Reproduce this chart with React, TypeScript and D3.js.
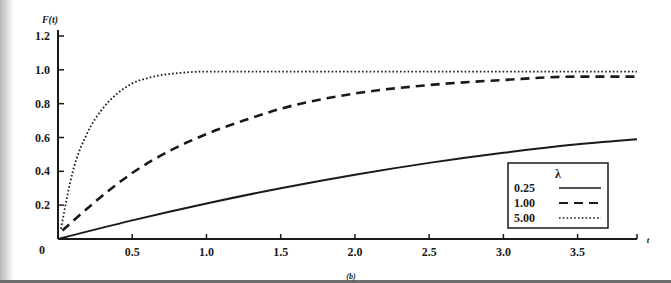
import { useRef, useEffect } from "react";
import * as d3 from "d3";

// lambda = 0.25
const T_025 = [0, 0.5, 1.0, 1.5, 2.0, 2.5, 3.0, 3.5, 3.9];
const F_025 = [0.0, 0.11, 0.21, 0.3, 0.38, 0.45, 0.51, 0.56, 0.59];

// lambda = 1.00
const T_100 = [0.03, 0.25, 0.5, 0.75, 1.0, 1.25, 1.5, 2.0, 2.5, 3.0, 3.5, 3.9];
const F_100 = [0.05, 0.22, 0.39, 0.52, 0.62, 0.7, 0.77, 0.86, 0.91, 0.94, 0.96, 0.96];

// lambda = 5.00
const T_500 = [0.02, 0.1, 0.2, 0.3, 0.4, 0.5, 0.6, 0.7, 0.8, 1.0, 1.5, 2.0, 3.0, 3.9];
const F_500 = [0.06, 0.4, 0.63, 0.77, 0.86, 0.92, 0.95, 0.97, 0.98, 0.99, 0.99, 0.99, 0.99, 0.99];

const X_TICKS = [0.5, 1.0, 1.5, 2.0, 2.5, 3.0, 3.5];
const Y_TICKS = [0.2, 0.4, 0.6, 0.8, 1.0, 1.2];
const LEGEND = ["0.25", "1.00", "5.00"];

export default function App() {
  const svgRef = useRef<SVGSVGElement>(null);

  useEffect(() => {
    if (!svgRef.current) return;
    const svg = d3.select(svgRef.current);
    svg.selectAll("*").remove();

    const width = 671;
    const height = 283;
    const font = "'Liberation Serif', 'DejaVu Serif', serif";
    const ink = "#1a1a1a";

    // scanned page look
    const defs = svg.append("defs");
    const grad = defs
      .append("linearGradient")
      .attr("id", "edge")
      .attr("x1", "0")
      .attr("x2", "1");
    grad.append("stop").attr("offset", "0").attr("stop-color", "#b8b8b8");
    grad.append("stop").attr("offset", "1").attr("stop-color", "#ffffff");

    svg.append("rect").attr("width", width).attr("height", height).attr("fill", "#fff");
    svg.append("rect").attr("width", 14).attr("height", height).attr("fill", "url(#edge)");
    svg
      .append("rect")
      .attr("y", 280)
      .attr("width", width)
      .attr("height", 3)
      .attr("fill", "#6e6e6e");

    const x = d3.scaleLinear().domain([0, 3.9]).range([58, 637]);
    const y = d3.scaleLinear().domain([0, 1.2]).range([239, 36]);

    const label = (sel: d3.Selection<SVGTextElement, unknown, null, undefined>, size = 12) =>
      sel
        .attr("font-family", font)
        .attr("font-weight", "bold")
        .attr("font-size", `${size}px`)
        .attr("fill", ink);

    // y axis
    svg
      .append("line")
      .attr("x1", x(0))
      .attr("x2", x(0))
      .attr("y1", 30)
      .attr("y2", y(0))
      .attr("stroke", ink)
      .attr("stroke-width", 2);
    Y_TICKS.forEach((v) => {
      svg
        .append("line")
        .attr("x1", x(0))
        .attr("x2", x(0) + 6)
        .attr("y1", y(v))
        .attr("y2", y(v))
        .attr("stroke", ink)
        .attr("stroke-width", 1.5);
      label(svg.append("text"))
        .attr("x", 50)
        .attr("y", y(v) + 4)
        .attr("text-anchor", "end")
        .text(v.toFixed(1));
    });

    // x axis
    svg
      .append("line")
      .attr("x1", x(0))
      .attr("x2", x(3.9))
      .attr("y1", y(0))
      .attr("y2", y(0))
      .attr("stroke", ink)
      .attr("stroke-width", 2);
    [...X_TICKS, 3.9].forEach((v) => {
      svg
        .append("line")
        .attr("x1", x(v))
        .attr("x2", x(v))
        .attr("y1", y(0))
        .attr("y2", y(0) - 5)
        .attr("stroke", ink)
        .attr("stroke-width", 1.5);
    });
    X_TICKS.forEach((v) => {
      label(svg.append("text"))
        .attr("x", x(v))
        .attr("y", 256)
        .attr("text-anchor", "middle")
        .text(v.toFixed(1));
    });
    label(svg.append("text"))
      .attr("x", 42)
      .attr("y", 254)
      .attr("text-anchor", "middle")
      .text("0");

    // axis titles
    label(svg.append("text"), 10)
      .attr("x", 50)
      .attr("y", 23)
      .attr("text-anchor", "middle")
      .attr("font-style", "italic")
      .text("F(t)");
    label(svg.append("text"), 9)
      .attr("x", 648)
      .attr("y", 243)
      .attr("text-anchor", "middle")
      .attr("font-style", "italic")
      .text("t");
    label(svg.append("text"), 8)
      .attr("x", 351)
      .attr("y", 279)
      .attr("text-anchor", "middle")
      .attr("font-style", "italic")
      .text("(b)");

    // curves
    const line = d3
      .line<[number, number]>()
      .x((d) => x(d[0]))
      .y((d) => y(d[1]))
      .curve(d3.curveMonotoneX);

    const series = [
      { t: T_025, f: F_025, width: 2, dash: null as string | null },
      { t: T_100, f: F_100, width: 2.6, dash: "9,6" },
      { t: T_500, f: F_500, width: 1.8, dash: "1.6,2.2" },
    ];
    series.forEach((s) => {
      const pts = s.t.map((t, i) => [t, s.f[i]] as [number, number]);
      svg
        .append("path")
        .attr("d", line(pts))
        .attr("fill", "none")
        .attr("stroke", ink)
        .attr("stroke-width", s.width)
        .attr("stroke-dasharray", s.dash);
    });

    // legend
    const lg = svg.append("g").attr("transform", "translate(508,163)");
    lg.append("rect")
      .attr("width", 100)
      .attr("height", 65)
      .attr("fill", "#fff")
      .attr("stroke", ink)
      .attr("stroke-width", 1.5);
    label(lg.append("text") as any)
      .attr("x", 50)
      .attr("y", 15)
      .attr("text-anchor", "middle")
      .text("λ");
    LEGEND.forEach((lab, i) => {
      const yy = 25 + i * 15;
      label(lg.append("text") as any)
        .attr("x", 6)
        .attr("y", yy + 4)
        .text(lab);
      lg.append("line")
        .attr("x1", 51)
        .attr("x2", 93)
        .attr("y1", yy)
        .attr("y2", yy)
        .attr("stroke", ink)
        .attr("stroke-width", series[i].width * 0.8)
        .attr("stroke-dasharray", series[i].dash);
    });
  }, []);

  return (
    <svg
      ref={svgRef}
      width={671}
      height={283}
      style={{ position: "absolute", left: 0, top: 0, display: "block" }}
    />
  );
}
